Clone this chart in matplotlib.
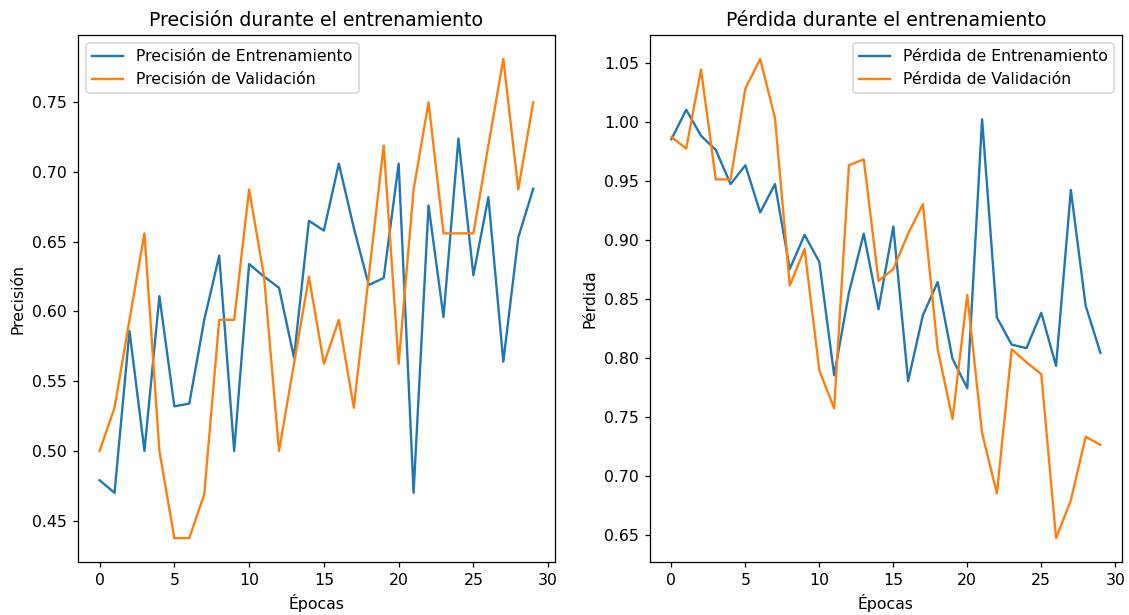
import matplotlib
matplotlib.use("Agg")
import matplotlib.pyplot as plt

# Valores
epocas = list(range(30))

precision_entrenamiento = [
    0.479, 0.470, 0.586, 0.500, 0.611, 0.532, 0.534, 0.594, 0.640, 0.500,
    0.634, 0.625, 0.617, 0.567, 0.665, 0.658, 0.706, 0.660, 0.619, 0.624,
    0.706, 0.470, 0.676, 0.596, 0.724, 0.626, 0.682, 0.564, 0.653, 0.688,
]
precision_validacion = [
    0.500, 0.531, 0.594, 0.656, 0.500, 0.4375, 0.4375, 0.469, 0.594, 0.594,
    0.6875, 0.625, 0.500, 0.5625, 0.625, 0.5625, 0.594, 0.531, 0.625, 0.719,
    0.5625, 0.6875, 0.750, 0.656, 0.656, 0.656, 0.719, 0.781, 0.6875, 0.750,
]

perdida_entrenamiento = [
    0.985, 1.010, 0.988, 0.976, 0.947, 0.963, 0.923, 0.947, 0.875, 0.904,
    0.881, 0.785, 0.855, 0.905, 0.841, 0.911, 0.780, 0.836, 0.864, 0.799,
    0.774, 1.002, 0.834, 0.811, 0.808, 0.838, 0.793, 0.942, 0.844, 0.804,
]
perdida_validacion = [
    0.987, 0.977, 1.044, 0.951, 0.951, 1.028, 1.053, 1.003, 0.861, 0.892,
    0.789, 0.757, 0.963, 0.968, 0.865, 0.875, 0.905, 0.930, 0.807, 0.748,
    0.853, 0.736, 0.685, 0.807, 0.796, 0.786, 0.647, 0.679, 0.733, 0.726,
]

DPI = 113
fig = plt.figure(figsize=(1129 / DPI, 615 / DPI), dpi=DPI)

ax1 = fig.add_axes([0.069, 0.086, 0.4225, 0.857])
ax1.plot(epocas, precision_entrenamiento, label='Precisión de Entrenamiento')
ax1.plot(epocas, precision_validacion, label='Precisión de Validación')
ax1.set_title('Precisión durante el entrenamiento')
ax1.set_xlabel('Épocas')
ax1.set_ylabel('Precisión')
ax1.legend(loc='upper left')

ax2 = fig.add_axes([0.5757, 0.086, 0.418, 0.857])
ax2.plot(epocas, perdida_entrenamiento, label='Pérdida de Entrenamiento')
ax2.plot(epocas, perdida_validacion, label='Pérdida de Validación')
ax2.set_title('Pérdida durante el entrenamiento')
ax2.set_xlabel('Épocas')
ax2.set_ylabel('Pérdida')
ax2.legend(loc='upper right')

fig.savefig('out.png', dpi=DPI)
